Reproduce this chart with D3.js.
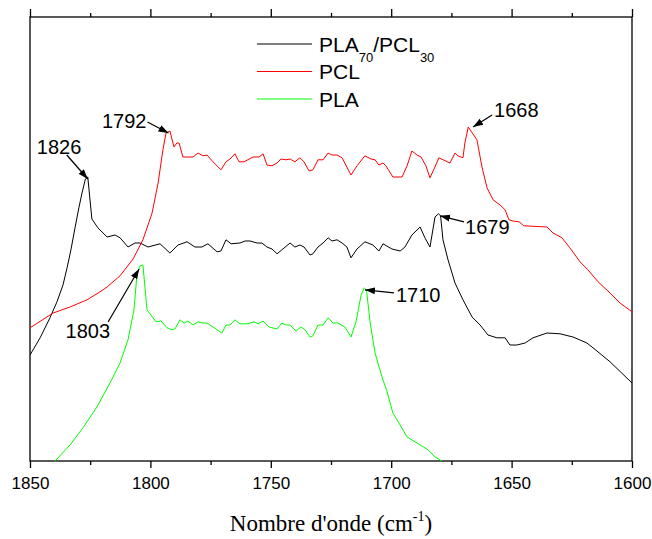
<!DOCTYPE html>

<head>
    <title>FTIR PLA / PCL</title>
    <meta charset="utf-8">

    <script type="text/javascript" src="https://cdn.jsdelivr.net/npm/d3@7/dist/d3.min.js"></script>
    <style>
        body {
            margin: 0;
            background: #fff;
        }

        svg {
            font-family: 'Liberation Sans', Arial, sans-serif;
        }

        .line {
            fill: none;
            stroke-width: 1px;
        }
    </style>
</head>

<body>
    <svg id="chart" width="652" height="539"></svg>

    <script>
        // tick values (wavenumber, cm-1)
        var xTicks = [1850, 1800, 1750, 1700, 1650, 1600];
        var xMinorTicks = [1825, 1775, 1725, 1675, 1625];

        // absorbance (a.u.): [wavenumber, absorbance]
        var blend = [
            [1850, 0.265], [1845.8, 0.308], [1841.7, 0.358], [1838.8, 0.398], [1836.3, 0.440],
            [1834.6, 0.483], [1833.0, 0.528], [1831.3, 0.583], [1829.7, 0.633], [1828.4, 0.670],
            [1827.0, 0.705], [1826.0, 0.710], [1824.3, 0.605], [1821.8, 0.583], [1818.0, 0.560],
            [1814.7, 0.565], [1812.6, 0.558], [1809.3, 0.535], [1806.4, 0.545], [1804.3, 0.545],
            [1801.0, 0.535], [1796.0, 0.543], [1791.9, 0.520], [1788.5, 0.540], [1784.8, 0.548],
            [1781.5, 0.535], [1778.6, 0.535], [1776.1, 0.543], [1772.3, 0.523], [1770.7, 0.525],
            [1768.6, 0.553], [1766.5, 0.543], [1762.8, 0.545], [1760.7, 0.550], [1758.6, 0.550],
            [1755.7, 0.545], [1753.7, 0.545], [1751.6, 0.535], [1749.5, 0.530], [1747.4, 0.518],
            [1745.4, 0.528], [1742.0, 0.545], [1740.0, 0.535], [1737.9, 0.540], [1736.2, 0.535],
            [1733.7, 0.515], [1732.5, 0.518], [1730.4, 0.535], [1728.3, 0.545], [1726.2, 0.558],
            [1724.6, 0.550], [1722.5, 0.553], [1720.4, 0.545], [1718.4, 0.535], [1716.7, 0.508],
            [1714.2, 0.530], [1710.9, 0.548], [1707.6, 0.540], [1705.1, 0.525], [1703.4, 0.543],
            [1699.7, 0.530], [1696.3, 0.525], [1694.3, 0.535], [1691.4, 0.565], [1688.0, 0.585],
            [1686.0, 0.558], [1683.9, 0.535], [1681.8, 0.610], [1680.4, 0.618], [1679.5, 0.613],
            [1678.5, 0.553], [1676.4, 0.503], [1673.5, 0.445], [1670.2, 0.403], [1666.4, 0.360],
            [1663.1, 0.340], [1659.8, 0.315], [1656.1, 0.308], [1652.7, 0.308], [1650.7, 0.290],
            [1647.8, 0.290], [1644.4, 0.295], [1641.1, 0.308], [1635.3, 0.320], [1629.9, 0.318],
            [1624.5, 0.310], [1618.7, 0.295], [1616.2, 0.283], [1609.1, 0.248], [1600, 0.195]
        ];

        var pcl = [
            [1850, 0.333], [1840.4, 0.370], [1833.4, 0.385], [1826.3, 0.403], [1820.9, 0.423],
            [1818.0, 0.435], [1812.6, 0.463], [1807.2, 0.505], [1803.1, 0.553], [1799.3, 0.620],
            [1796.8, 0.695], [1794.8, 0.778], [1793.5, 0.820], [1791.9, 0.825], [1790.2, 0.785],
            [1789.0, 0.795], [1788.1, 0.795], [1786.5, 0.760], [1782.3, 0.760], [1780.2, 0.770],
            [1778.2, 0.763], [1776.5, 0.765], [1774.0, 0.748], [1770.7, 0.728], [1768.6, 0.748],
            [1766.9, 0.755], [1764.9, 0.768], [1763.2, 0.748], [1761.1, 0.748], [1757.4, 0.760],
            [1754.9, 0.760], [1753.2, 0.768], [1751.6, 0.740], [1749.5, 0.738], [1747.4, 0.745],
            [1745.8, 0.755], [1743.7, 0.753], [1742.0, 0.755], [1740.0, 0.748], [1737.9, 0.758],
            [1736.2, 0.748], [1734.1, 0.725], [1732.5, 0.728], [1730.4, 0.753], [1728.3, 0.753],
            [1726.2, 0.770], [1724.6, 0.765], [1722.5, 0.765], [1720.4, 0.758], [1716.7, 0.715],
            [1714.2, 0.738], [1710.9, 0.763], [1708.4, 0.755], [1706.7, 0.753], [1705.1, 0.740],
            [1703.4, 0.745], [1702.2, 0.738], [1699.3, 0.710], [1695.5, 0.710], [1693.4, 0.738],
            [1691.4, 0.775], [1689.3, 0.765], [1687.6, 0.760], [1685.6, 0.738], [1683.9, 0.708],
            [1682.2, 0.730], [1680.2, 0.758], [1675.6, 0.745], [1673.5, 0.770], [1672.3, 0.763],
            [1670.2, 0.758], [1669.4, 0.795], [1668.0, 0.835], [1664.4, 0.803], [1662.3, 0.735],
            [1660.2, 0.683], [1657.7, 0.653], [1654.8, 0.640], [1652.7, 0.628], [1651.1, 0.603],
            [1649.4, 0.600], [1646.9, 0.598], [1644.9, 0.588], [1635.3, 0.585], [1632.8, 0.570],
            [1629.1, 0.558], [1625.8, 0.533], [1621.6, 0.498], [1618.3, 0.478], [1614.1, 0.448],
            [1609.1, 0.420], [1605.0, 0.395], [1600, 0.373]
        ];

        var pla = [
            [1839.6, 0.000], [1833.4, 0.040], [1828.0, 0.083], [1822.2, 0.135], [1816.8, 0.195],
            [1812.6, 0.245], [1809.3, 0.303], [1806.8, 0.378], [1805.6, 0.465], [1804.3, 0.488],
            [1803.1, 0.490], [1801.4, 0.378], [1797.7, 0.348], [1795.6, 0.350], [1793.1, 0.333],
            [1791.0, 0.328], [1789.8, 0.330], [1787.7, 0.353], [1786.0, 0.345], [1784.4, 0.350],
            [1782.3, 0.340], [1780.2, 0.348], [1778.2, 0.345], [1776.5, 0.345], [1770.3, 0.320],
            [1768.6, 0.340], [1766.9, 0.340], [1764.9, 0.353], [1762.8, 0.343], [1759.5, 0.343],
            [1757.0, 0.348], [1755.3, 0.343], [1753.2, 0.350], [1750.8, 0.335], [1747.4, 0.330],
            [1745.4, 0.345], [1743.7, 0.340], [1742.0, 0.340], [1739.5, 0.325], [1737.5, 0.335],
            [1735.8, 0.328], [1733.7, 0.310], [1732.5, 0.313], [1730.4, 0.340], [1728.3, 0.340],
            [1726.2, 0.358], [1724.2, 0.345], [1722.1, 0.345], [1719.2, 0.335], [1716.7, 0.310],
            [1714.6, 0.348], [1712.5, 0.415], [1711.2, 0.433], [1710.2, 0.425], [1708.8, 0.348],
            [1706.7, 0.270], [1703.8, 0.210], [1701.7, 0.173], [1699.3, 0.120], [1696.3, 0.090],
            [1693.4, 0.060], [1689.3, 0.045], [1684.7, 0.028], [1681.8, 0.010], [1678.9, 0.000]
        ];

        var seriesList = [
            { name: "PLA70/PCL30", data: blend, color: "#000000" },
            { name: "PCL", data: pcl, color: "#ff0000" },
            { name: "PLA", data: pla, color: "#00ff00" }
        ];

        // legend labels, split into normal / subscript parts
        var legendParts = [
            [["PLA", false], ["70", true], ["/", false], ["PCL", false], ["30", true]],
            [["PCL", false]],
            [["PLA", false]]
        ];

        // annotated peaks
        var peaks = [
            { label: "1826", wn: 1826, a: 0.705 },
            { label: "1792", wn: 1792.5, a: 0.820 },
            { label: "1803", wn: 1804.7, a: 0.480 },
            { label: "1710", wn: 1710.9, a: 0.428 },
            { label: "1668", wn: 1666.0, a: 0.835 },
            { label: "1679", wn: 1679.7, a: 0.613 }
        ];
        // where the label / arrow tail sit relative to the arrow tip (px)
        var peakLayout = [
            { tx: -21, ty: -24, lx: -51, ly: -25, anchor: "start" },
            { tx: -21, ty: -11, lx: -22, ly: -5, anchor: "end" },
            { tx: -31, ty: 53, lx: -29, ly: 69, anchor: "end" },
            { tx: 29, ty: 3, lx: 31, ly: 12, anchor: "start" },
            { tx: 19, ty: -12, lx: 21, ly: -10, anchor: "start" },
            { tx: 24, ty: 6, lx: 25, ly: 18, anchor: "start" }
        ];

        var margin = { top: 17, right: 20, bottom: 78, left: 30 },
            width = 652 - margin.left - margin.right,
            height = 539 - margin.top - margin.bottom;

        var svg = d3.select("#chart")
            .append("g")
            .attr("transform", `translate(${margin.left},${margin.top})`);

        // reversed wavenumber axis
        var x = d3.scaleLinear().domain([1850, 1600]).range([0, width]);
        var y = d3.scaleLinear().domain([0, 1.11]).range([height, 0]);

        svg.append("defs").append("clipPath")
            .attr("id", "plotClip")
            .append("rect")
            .attr("width", width)
            .attr("height", height);

        var marker = svg.select("defs").append("marker")
            .attr("id", "arrow")
            .attr("markerUnits", "userSpaceOnUse")
            .attr("viewBox", "0 0 10 8")
            .attr("refX", 10)
            .attr("refY", 4)
            .attr("markerWidth", 10)
            .attr("markerHeight", 8)
            .attr("orient", "auto");
        marker.append("path").attr("d", "M0,0.5 L10,4 L0,7.5 Z").attr("fill", "#000");

        // bottom axis with labels
        var xAxis = d3.axisBottom(x).tickValues(xTicks).tickSize(7).tickPadding(9).tickSizeOuter(0)
            .tickFormat(d3.format("d"));
        var gx = svg.append("g")
            .attr("transform", `translate(0, ${height})`)
            .call(xAxis);
        gx.select(".domain").remove();
        gx.selectAll("text").style("font-size", "17px").attr("fill", "#000");
        gx.selectAll("line").attr("stroke-width", 1.3);

        svg.append("g")
            .attr("transform", `translate(0, ${height})`)
            .call(d3.axisBottom(x).tickValues(xMinorTicks).tickSize(4).tickFormat(""))
            .call(g => g.select(".domain").remove())
            .selectAll("line").attr("stroke-width", 1.3);

        // top axis, ticks only
        svg.append("g")
            .call(d3.axisTop(x).tickValues(xTicks).tickSize(8).tickFormat(""))
            .call(g => g.select(".domain").remove())
            .selectAll("line").attr("stroke-width", 1.3);
        svg.append("g")
            .call(d3.axisTop(x).tickValues(xMinorTicks).tickSize(4).tickFormat(""))
            .call(g => g.select(".domain").remove())
            .selectAll("line").attr("stroke-width", 1.3);

        // frame
        svg.append("rect")
            .attr("width", width)
            .attr("height", height)
            .attr("fill", "none")
            .attr("stroke", "#000")
            .attr("stroke-width", 1.3);

        var line = d3.line()
            .x(d => x(d[0]))
            .y(d => y(d[1]));

        var plot = svg.append("g").attr("clip-path", "url(#plotClip)");
        seriesList.forEach(function (s) {
            plot.append("path")
                .datum(s.data)
                .attr("class", "line")
                .attr("stroke", s.color)
                .attr("d", line);
        });

        // peak annotations
        peaks.forEach(function (p, i) {
            var L = peakLayout[i];
            var px = x(p.wn), py = y(p.a);
            svg.append("line")
                .attr("x1", px + L.tx)
                .attr("y1", py + L.ty)
                .attr("x2", px)
                .attr("y2", py)
                .attr("stroke", "#000")
                .attr("stroke-width", 1.2)
                .attr("marker-end", "url(#arrow)");
            svg.append("text")
                .attr("x", px + L.lx)
                .attr("y", py + L.ly)
                .attr("text-anchor", L.anchor)
                .style("font-size", "20px")
                .text(p.label);
        });

        // legend
        var legend = svg.append("g").attr("transform", "translate(227, 27)");
        seriesList.forEach(function (s, i) {
            var row = legend.append("g").attr("transform", `translate(0, ${i * 27.5})`);
            row.append("line")
                .attr("x1", 0).attr("x2", 55)
                .attr("stroke", s.color)
                .attr("stroke-width", 1);
            var t = row.append("text")
                .attr("x", 62)
                .attr("y", 7.5)
                .style("font-size", "21px");
            var shifted = false;
            legendParts[i].forEach(function (part) {
                var ts = t.append("tspan").text(part[0]);
                if (part[1]) {
                    ts.attr("dy", 10).style("font-size", "13px");
                    shifted = true;
                } else if (shifted) {
                    ts.attr("dy", -10);
                    shifted = false;
                }
            });
        });

        // x axis title
        var title = svg.append("text")
            .attr("x", width / 2)
            .attr("y", height + 70)
            .attr("text-anchor", "middle")
            .style("font-family", "'Liberation Serif', 'Times New Roman', serif")
            .style("font-size", "23px");
        title.append("tspan").text("Nombre d'onde (cm");
        title.append("tspan").attr("dy", -10).style("font-size", "14px").text("-1");
        title.append("tspan").attr("dy", 10).text(")");
    </script>
</body>

</html>
